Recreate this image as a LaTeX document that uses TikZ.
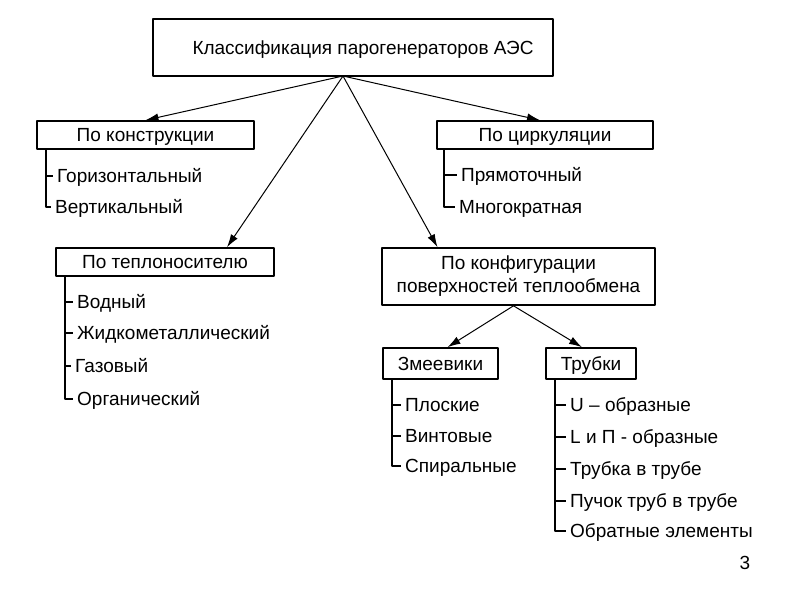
\documentclass[tikz,border=0pt]{standalone}
\usepackage{fontspec}
\setmainfont{Liberation Sans}
\usetikzlibrary{arrows.meta}

\begin{document}
\begin{tikzpicture}[x=1pt, y=-1pt, line cap=round, line join=round,
		box/.style={draw, line width=1.6pt, minimum width=#1, inner sep=0pt, align=center, font=\fontsize{19}{23}\selectfont},
		oneline/.style={text height=15pt, text depth=2pt},
		item/.style={anchor=west, inner xsep=4pt, inner ysep=0pt, text height=15pt, text depth=2pt, font=\fontsize{19}{23}\selectfont},
		arr/.style={line width=1pt, -{Latex[length=13pt,width=8pt]}},
		brk/.style={line width=1.8pt, line cap=butt}]
				\useasboundingbox (0,0) rectangle (800,600);
				% boxes
				\node[box=400pt, oneline, minimum height=57pt] (top) at (353,47.5) {\hspace{20pt}Классификация парогенераторов АЭС};
				\node[box=217pt, oneline, minimum height=28pt] (kon) at (145.5,135) {По конструкции};
				\node[box=216pt, oneline, minimum height=28pt] (cirk) at (545,135) {По циркуляции};
				\node[box=218pt, oneline, minimum height=28pt] (tepl) at (165,262) {По теплоносителю};
				\node[box=273pt, minimum height=57pt] (konf) at (518.5,276.5) {По конфигурации\\поверхностей теплообмена};
				\node[box=115pt, oneline, minimum height=31pt] (zmee) at (440.5,363.5) {Змеевики};
				\node[box=90pt, oneline, minimum height=31pt] (trub) at (591,363.5) {Трубки};
				% arrows
				\coordinate (apex) at (343,76);
				\draw[arr] (apex) -- (kon.north);
				\draw[arr] (apex) -- ([xshift=-5pt]cirk.north);
				\draw[arr] (apex) -- ([xshift=62pt]tepl.north);
				\draw[arr] (apex) -- ([xshift=-81pt]konf.north);
				\draw[arr] ([xshift=-5pt]konf.south) -- ([xshift=7pt]zmee.north);
				\draw[arr] ([xshift=-5pt]konf.south) -- ([xshift=-9pt]trub.north);
				% items
				\node[item] (gor) at (53,176) {Горизонтальный};
				\node[item] (ver) at (51,207) {Вертикальный};
				\node[item] (pryam) at (457,175) {Прямоточный};
				\node[item] (mnog) at (455,207) {Многократная};
				\node[item] (vod) at (73,302) {Водный};
				\node[item] (zhid) at (73,333) {Жидкометаллический};
				\node[item] (gaz) at (71,366) {Газовый};
				\node[item] (org) at (73,399) {Органический};
				\node[item] (plos) at (401,405) {Плоские};
				\node[item] (vint) at (401,436) {Винтовые};
				\node[item] (spir) at (401,466) {Спиральные};
				\node[item] (uobr) at (566,405) {U -- образные};
				\node[item] (lobr) at (566,437) {L и П - образные};
				\node[item] (tvt) at (566,469) {Трубка в трубе};
				\node[item] (puch) at (566,501) {Пучок труб в трубе};
				\node[item] (obr) at (566,531) {Обратные элементы};
				% brackets
				\coordinate (konb) at (46,149);
				\coordinate (cirkb) at (444,149);
				\coordinate (teplb) at (65,276);
				\coordinate (zmeeb) at (392,379);
				\coordinate (trubb) at (555,379);
				\foreach \i in {gor,ver} \draw[brk] (konb) |- (\i.west);
				\foreach \i in {pryam,mnog} \draw[brk] (cirkb) |- (\i.west);
				\foreach \i in {vod,zhid,gaz,org} \draw[brk] (teplb) |- (\i.west);
				\foreach \i in {plos,vint,spir} \draw[brk] (zmeeb) |- (\i.west);
				\foreach \i in {uobr,lobr,tvt,puch,obr} \draw[brk] (trubb) |- (\i.west);
				\node[font=\fontsize{19}{23}\selectfont] (page) at (745,563) {3};
			\end{tikzpicture}
\end{document}
